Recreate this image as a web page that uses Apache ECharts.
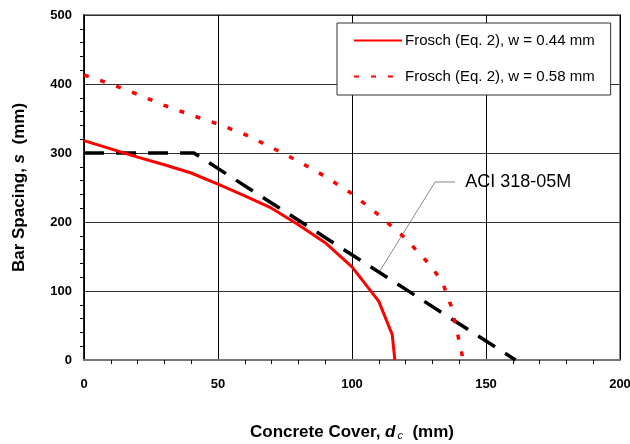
<!DOCTYPE html>
<html>
<head>
<meta charset="utf-8">
<script src="https://cdn.jsdelivr.net/npm/echarts@6/dist/echarts.min.js"></script>
<style>
    html, body { margin: 0; padding: 0; background: #fff; }
    #main { width: 630px; height: 444px; }
</style>
</head>
<body>
<div id="main"></div>
<script>
// Frosch (Eq. 2), w = 0.44 mm
var frosch044 = [[0, 318], [10, 306], [20, 294], [30, 283], [40, 271], [50, 255], [60, 238],
    [70, 220], [80, 196], [90, 170], [100, 135], [110, 85], [115, 37], [116, 0]];
// Frosch (Eq. 2), w = 0.58 mm
var frosch058 = [[0, 413], [10, 400], [20, 385], [30, 369], [40, 355], [50, 342], [60, 327],
    [70, 308], [80, 288], [90, 266], [100, 241], [110, 210], [120, 176], [125, 155],
    [130, 134], [134, 110], [137, 78], [139, 45], [141.5, 0]];
// ACI 318-05M
var aci = [[0, 300], [41, 300], [161, 0]];
// leader line for the ACI label
var aciLeader = [[110.4, 129], [131, 258], [138.5, 258]];
var aciText = 'ACI 318-05M';

var font = 'Liberation Sans, Arial, Helvetica, sans-serif';
var chart = echarts.init(document.getElementById('main'));

var option = {
    animation: false,
    textStyle: {fontFamily: font},
    grid: {
        left: 84, right: 10, top: 15, bottom: 84,
        outerBoundsMode: 'none',
        show: true, borderColor: '#888', borderWidth: 2
    },
    legend: {
        data: ['Frosch (Eq. 2), w = 0.44 mm', 'Frosch (Eq. 2), w = 0.58 mm'],
        orient: 'vertical',
        left: 337, top: 23,
        itemWidth: 48, itemHeight: 14, itemGap: 21,
        padding: [10, 16, 11, 16],
        borderColor: '#333', borderWidth: 1,
        backgroundColor: '#fff',
        itemStyle: {opacity: 0},
        textStyle: {fontFamily: font, fontSize: 15, color: '#000', padding: [0, 0, 0, -2]}
    },
    xAxis: {
        type: 'value', min: 0, max: 200, interval: 50,
        name: '{b|Concrete Cover, }{i|d}{sub|c}{b|  (mm)}',
        nameLocation: 'middle', nameGap: 64,
        nameTextStyle: {
            rich: {
                b: {fontFamily: font, fontSize: 17, fontWeight: 'bold', color: '#000'},
                i: {fontFamily: font, fontSize: 17, fontWeight: 'bold', fontStyle: 'italic', color: '#000'},
                sub: {fontFamily: font, fontSize: 11, fontStyle: 'italic', color: '#000', padding: [6, 0, 0, 2]}
            }
        },
        axisLine: {lineStyle: {color: '#777', width: 2}},
        axisTick: {show: false},
        minorTick: {show: true, splitNumber: 5, length: 4, lineStyle: {color: '#000', width: 1}},
        axisLabel: {fontSize: 13, fontWeight: 'bold', color: '#000', margin: 18},
        splitLine: {lineStyle: {color: '#000', width: 1}}
    },
    yAxis: {
        type: 'value', min: 0, max: 500, interval: 100,
        name: '{b|Bar Spacing, }{i|s}{b|  (mm)}',
        nameLocation: 'middle', nameGap: 56, nameRotate: 90,
        nameTextStyle: {
            rich: {
                b: {fontFamily: font, fontSize: 17, fontWeight: 'bold', color: '#000'},
                i: {fontFamily: font, fontSize: 17, fontWeight: 'bold', fontStyle: 'italic', color: '#000'}
            }
        },
        axisLine: {show: true, lineStyle: {color: '#000', width: 1.5}},
        axisTick: {show: false},
        minorTick: {show: true, splitNumber: 5, length: 4, lineStyle: {color: '#000', width: 1}},
        axisLabel: {fontSize: 13, fontWeight: 'bold', color: '#000', margin: 12},
        splitLine: {lineStyle: {color: '#333', width: 1}}
    },
    series: [
        {
            name: 'Frosch (Eq. 2), w = 0.44 mm',
            type: 'line', data: frosch044, symbol: 'none',
            lineStyle: {color: '#ff0000', width: 3}, itemStyle: {color: '#ff0000'}, z: 4
        },
        {
            name: 'Frosch (Eq. 2), w = 0.58 mm',
            type: 'line', data: frosch058, symbol: 'none',
            lineStyle: {color: '#ff0000', width: 3.5, type: [5, 12]}, itemStyle: {color: '#ff0000'}, z: 4
        },
        {
            name: 'ACI 318-05M',
            type: 'line', data: aci, symbol: 'none',
            lineStyle: {color: '#000', width: 3.5, type: [20, 12]}, z: 3
        },
        {
            name: 'leader',
            type: 'line', data: aciLeader,
            symbol: 'none', silent: true,
            endLabel: {
                show: true, distance: 10,
                formatter: aciText,
                fontFamily: font, fontSize: 18, color: '#000'
            },
            lineStyle: {color: '#888', width: 1}, z: 2
        }
    ]
};

chart.setOption(option);
</script>
</body>
</html>
